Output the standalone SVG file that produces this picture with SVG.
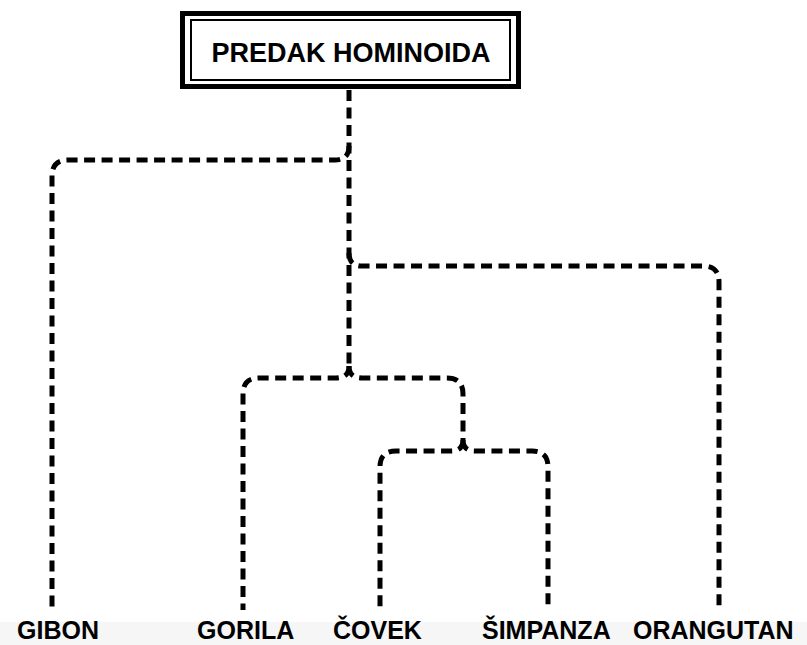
<svg xmlns="http://www.w3.org/2000/svg" width="807" height="645" viewBox="0 0 807 645">
  <style>
    .line { fill: none; stroke: #000; stroke-width: 5; stroke-dasharray: 11 6.5; stroke-linecap: butt; }
    .lbl { font-family: "Liberation Sans", Arial, sans-serif; font-weight: bold; font-size: 25px; fill: #000; }
    .title { font-family: "Liberation Sans", Arial, sans-serif; font-weight: bold; font-size: 27px; fill: #000; }
  </style>
  <rect x="0" y="0" width="807" height="645" fill="#ffffff"/>
  <rect x="0" y="622" width="807" height="23" fill="#f6f6f6"/>

  <g id="root">
    <rect x="182.5" y="13.5" width="336" height="73" fill="#ffffff" stroke="#000" stroke-width="5"/>
    <rect x="191" y="20" width="319" height="60" fill="none" stroke="#000" stroke-width="2"/>
    <text class="title" x="351" y="62" text-anchor="middle">PREDAK HOMINOIDA</text>
  </g>

  <g id="connectors">
    <path class="line" d="M349,90 V370"/>
    <path class="line" d="M349,146 Q349,160 335,160 H68 Q52,160 52,176 V610"/>
    <path class="line" d="M349,253 Q349,266 362,266 H703 Q719,266 719,282 V610"/>
    <path class="line" d="M349,366 Q349,378 336,378 H259 Q243,378 243,394 V610"/>
    <path class="line" d="M349,366 Q349,378 362,378 H447 Q463,378 463,394 V440"/>
    <path class="line" d="M463,440 Q463,451 451,451 H396 Q380,451 380,467 V610"/>
    <path class="line" d="M463,440 Q463,451 475,451 H532 Q548,451 548,467 V610"/>
  </g>

  <g id="gibon"><text class="lbl" x="17" y="639">GIBON</text></g>
  <g id="gorila"><text class="lbl" x="197" y="639">GORILA</text></g>
  <g id="covek"><text class="lbl" x="333" y="639">ČOVEK</text></g>
  <g id="simpanza"><text class="lbl" x="482" y="639">ŠIMPANZA</text></g>
  <g id="orangutan"><text class="lbl" x="633" y="639">ORANGUTAN</text></g>
</svg>
